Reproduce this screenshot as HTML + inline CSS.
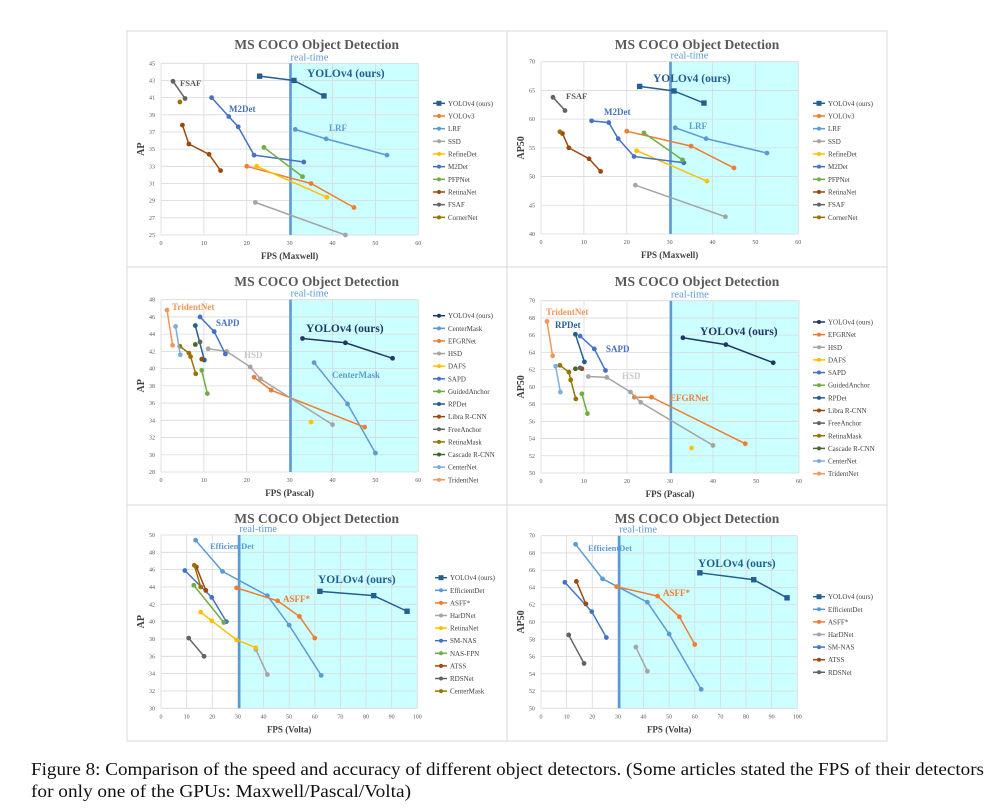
<!DOCTYPE html>
<html><head><meta charset="utf-8"><style>
html,body{margin:0;padding:0;background:#fff;}
svg{display:block;}
text{font-family:"Liberation Serif",serif;}
</style></head><body>
<svg id="fig" width="1001" height="810" viewBox="0 0 1001 810" xmlns="http://www.w3.org/2000/svg">
<g id="panels"></g>
<text x="31" y="775" font-size="18" fill="#111" textLength="953" lengthAdjust="spacingAndGlyphs">Figure 8: Comparison of the speed and accuracy of different object detectors. (Some articles stated the FPS of their detectors</text>
<text x="31" y="797" font-size="18" fill="#111" textLength="380" lengthAdjust="spacingAndGlyphs">for only one of the GPUs: Maxwell/Pascal/Volta)</text>
</svg>
<script>
// ---- colors per method
const C={YOLOv4:"#255e91",YOLOv4b:"#203864",YOLOv3:"#ed7d31",LRF:"#5b9bd5",SSD:"#a5a5a5",RefineDet:"#ffc000",M2Det:"#4472c4",PFPNet:"#70ad47",RetinaNet:"#9e480e",FSAF:"#636363",CornerNet:"#997300",CenterMask:"#5b9bd5",EFGRNet:"#ed7d31",HSD:"#a5a5a5",DAFS:"#ffc000",SAPD:"#4472c4",GuidedAnchor:"#70ad47",RPDet:"#255e91",Libra:"#9e480e",FreeAnchor:"#636363",RetinaMask:"#997300",Cascade:"#43682b",CenterNet:"#7cafdd",TridentNet:"#f1975a",EfficientDet:"#5b9bd5",ASFF:"#ed7d31",HarDNet:"#a5a5a5",RetinaNetV:"#ffc000",SMNAS:"#4472c4",NASFPN:"#70ad47",ATSS:"#9e480e",RDSNet:"#636363",CenterMaskV:"#997300"};

// ---- Panel 1 data (AP, Maxwell)
const p1Names=["YOLOv4 (ours)","YOLOv3","LRF","SSD","RefineDet","M2Det","PFPNet","RetinaNet","FSAF","CornerNet"];
const p1Colors=[C.YOLOv4,C.YOLOv3,C.LRF,C.SSD,C.RefineDet,C.M2Det,C.PFPNet,C.RetinaNet,C.FSAF,C.CornerNet];
const p1X=[[23,31,38],[20,35,45],[31.3,38.5,52.7],[22,43],[22.3,38.7],[11.8,15.8,18,21.7,33.3],[24,33],[5,6.5,11.2,13.9],[2.8,5.6],[4.4]];
const p1Y=[[43.5,43,41.2],[33,31,28.2],[37.3,36.2,34.3],[28.8,25],[33,29.4],[41,38.8,37.6,34.3,33.5],[35.2,31.8],[37.8,35.6,34.4,32.5],[42.9,40.9],[40.5]];
const p1YTicks=[25,27,29,31,33,35,37,39,41,43,45];
const p1XTicks=[0,10,20,30,40,50,60];

// ---- Panel 2 data (AP50, Maxwell)
const p2X=p1X;
const p2Y=[[65.7,64.9,62.8],[57.9,55.3,51.5],[58.5,56.6,54.1],[48.5,43],[54.5,49.2],[59.7,59.4,56.6,53.5,52.4],[57.6,52.9],[57.5,55,53.1,50.9],[63.8,61.5],[57.8]];
const p2YTicks=[40,45,50,55,60,65,70];

// ---- Panel 3 data (AP, Pascal)
const p3Names=["YOLOv4 (ours)","CenterMask","EFGRNet","HSD","DAFS","SAPD","GuidedAnchor","RPDet","Libra R-CNN","FreeAnchor","RetinaMask","Cascade R-CNN","CenterNet","TridentNet"];
const p3Colors=[C.YOLOv4b,C.CenterMask,C.EFGRNet,C.HSD,C.DAFS,C.SAPD,C.GuidedAnchor,C.RPDet,C.Libra,C.FreeAnchor,C.RetinaMask,C.Cascade,C.CenterNet,C.TridentNet];
const p3X=[[33,43,54],[35.7,43.5,50],[21.7,25.7,47.5],[11,15.3,20.8,23.2,40],[35],[9.1,12.4,15],[9.5,10.8],[8,10.1],[9.5],[9.1],[4.4,6.5,6.9,8.1],[8],[3.4,4.5],[1.4,2.7]];
const p3Y=[[43.5,43,41.2],[40.7,35.9,30.2],[39,37.5,33.2],[42.3,42,40.2,38.8,33.5],[33.8],[46,44.3,41.7],[39.8,37.1],[45,41],[41.1],[43.1],[42.6,41.8,41.4,39.4],[42.8],[44.9,41.6],[46.8,42.7]];
const p3YTicks=[28,30,32,34,36,38,40,42,44,46,48];

// ---- Panel 4 data (AP50, Pascal)
const p4Names=["YOLOv4 (ours)","EFGRNet","HSD","DAFS","SAPD","GuidedAnchor","RPDet","Libra R-CNN","FreeAnchor","RetinaMask","Cascade R-CNN","CenterNet","TridentNet"];
const p4Colors=[C.YOLOv4b,C.EFGRNet,C.HSD,C.DAFS,C.SAPD,C.GuidedAnchor,C.RPDet,C.Libra,C.FreeAnchor,C.RetinaMask,C.Cascade,C.CenterNet,C.TridentNet];
const p4X=[[33,43,54],[21.7,25.7,47.5],[11,15.3,20.8,23.2,40],[35],[9.1,12.4,15],[9.5,10.8],[8,10.1],[9.5],[9.1],[4.4,6.5,6.9,8.1],[8],[3.4,4.5],[1.4,2.7]];
const p4Y=[[65.7,64.9,62.8],[58.8,58.8,53.4],[61.2,61.1,59.4,58.2,53.2],[52.9],[65.9,64.4,61.9],[59.2,56.9],[66.1,62.9],[62.1],[62.2],[62.5,61.7,60.8,58.6],[62.1],[62.4,59.4],[67.6,63.6]];
const p4YTicks=[50,52,54,56,58,60,62,64,66,68,70];

// ---- Panel 5 data (AP, Volta)
const p5Names=["YOLOv4 (ours)","EfficientDet","ASFF*","HarDNet","RetinaNet","SM-NAS","NAS-FPN","ATSS","RDSNet","CenterMask"];
const p5Colors=[C.YOLOv4,C.EfficientDet,C.ASFF,C.HarDNet,C.RetinaNetV,C.SMNAS,C.NASFPN,C.ATSS,C.RDSNet,C.CenterMaskV];
const p5X=[[62,83,96],[13.5,24,41.5,50,62.5],[29.5,45.5,54,60],[37,41.5],[15.5,19.8,29.5,37],[9.3,19.8,25.5],[12.8,24.5],[13.8,17.5],[10.8,16.8],[13,15.5]];
const p5Y=[[43.5,43,41.2],[49.4,45.8,43,39.6,33.8],[43.9,42.4,40.6,38.1],[36.8,33.9],[41.1,40.1,37.9,37],[45.9,42.8,40],[44.2,39.9],[46.3,43.6],[38.1,36],[46.5,44]];
const p5YTicks=[30,32,34,36,38,40,42,44,46,48,50];
const p5XTicks=[0,10,20,30,40,50,60,70,80,90,100];

// ---- Panel 6 data (AP50, Volta)
const p6Names=["YOLOv4 (ours)","EfficientDet","ASFF*","HarDNet","SM-NAS","ATSS","RDSNet"];
const p6Colors=[C.YOLOv4,C.EfficientDet,C.ASFF,C.HarDNet,C.SMNAS,C.ATSS,C.RDSNet];
const p6X=[[62,83,96],[13.5,24,41.5,50,62.5],[29.5,45.5,54,60],[37,41.5],[9.3,19.8,25.5],[13.8,17.5],[10.8,16.8]];
const p6Y=[[65.7,64.9,62.8],[69,65,62.3,58.6,52.2],[64.1,63,60.6,57.4],[57.1,54.3],[64.6,61.2,58.2],[64.7,62.1],[58.5,55.2]];
const p6YTicks=[50,52,54,56,58,60,62,64,66,68,70];

const NS="http://www.w3.org/2000/svg";
const root=document.getElementById('panels');
function mk(tag,attrs,parent,txt){const e=document.createElementNS(NS,tag);for(const k in attrs)e.setAttribute(k,attrs[k]);if(txt!==undefined)e.textContent=txt;(parent||root).appendChild(e);return e;}

function panel(cfg){
  const g=mk('g',{});
  
  
  const box=mk('rect',{x:cfg.box[0],y:cfg.box[1],width:cfg.box[2],height:cfg.box[3],fill:'#fff',stroke:'#d9d9d9','stroke-width':1},g);
  
  
  const [x0,x1,y0,y1]=cfg.plot; // pixel bounds x0 left,x1 right,y0 top,y1 bottom
  const xmin=cfg.xTicks[0],xmax=cfg.xTicks[cfg.xTicks.length-1];
  const ymin=cfg.yTicks[0],ymax=cfg.yTicks[cfg.yTicks.length-1];
  const sx=v=>x0+(v-xmin)/(xmax-xmin)*(x1-x0);
  const sy=v=>y1-(v-ymin)/(ymax-ymin)*(y1-y0);
  // cyan region
  const cy=mk('rect',{x:sx(cfg.rt),y:y0,width:x1-sx(cfg.rt),height:y1-y0,fill:'#ccffff'},g);
  
  
  // grid
  cfg.yTicks.forEach(t=>{
    const l=mk('line',{x1:x0,x2:x1,y1:sy(t),y2:sy(t),stroke:'#d9d9d9','stroke-width':0.8},g);
    
    
    const tx=mk('text',{x:x0-6,y:sy(t)+2,'font-size':6,fill:'#595959','text-anchor':'end'},g,t);
    
    
  });
  cfg.xTicks.forEach(t=>{
    const l=mk('line',{x1:sx(t),x2:sx(t),y1:y0,y2:y1,stroke:'#d9d9d9','stroke-width':0.8},g);
    
    
    const tx=mk('text',{x:sx(t),y:y1+10,'font-size':6,fill:'#595959','text-anchor':'middle'},g,t);
    
    
  });
  const vl=mk('line',{x1:sx(cfg.rt),x2:sx(cfg.rt),y1:y0,y2:y1,stroke:'#5b9bd5','stroke-width':2.6},g);
  
  
  // title
  const ti=mk('text',{x:cfg.title[0],y:cfg.title[1],'font-size':13.5,'font-weight':'bold',fill:'#595959','text-anchor':'middle'},g,'MS COCO Object Detection');
  
  
  const rt=mk('text',{x:sx(cfg.rt)+19,y:y0-3,'font-size':10.5,fill:'#5b9bd5','text-anchor':'middle'},g,'real-time');
  
  
  const yt=mk('text',{x:0,y:0,'font-size':10,'font-weight':'bold',fill:'#404040','text-anchor':'middle',transform:`translate(${x0-17},${(y0+y1)/2}) rotate(-90)`},g,cfg.yLabel);
  
  
  const xt=mk('text',{x:(x0+x1)/2,y:y1+24,'font-size':9,'font-weight':'bold',fill:'#404040','text-anchor':'middle'},g,cfg.xLabel);
  
  
  // series
  cfg.xs.forEach((xs,i)=>{
    const col=cfg.colors[i];
    const sg=mk('g',{},g);
    
    
    if(xs.length>1){
      const pl=mk('polyline',{points:xs.map((x,j)=>sx(x)+','+sy(cfg.ys[i][j])).join(' '),fill:'none',stroke:col,'stroke-width':1.5},sg);
      
      
    }
    xs.forEach((x,j)=>{
      let m;
      if(i===0&&cfg.square) m=mk('rect',{x:sx(x)-2.7,y:sy(cfg.ys[i][j])-2.7,width:5.4,height:5.4,fill:col},sg);
      else m=mk('circle',{cx:sx(x),cy:sy(cfg.ys[i][j]),r:2.4,fill:col},sg);
      
      
    });
  });
  // annotations
  cfg.labels.forEach(a=>{
    const t=mk('text',{x:a[0],y:a[1],'font-size':a[3]||9,'font-weight':'bold',fill:a[2]},g,a[4]);
    
    
  });
  // legend
  cfg.names.forEach((n,i)=>{
    const y=cfg.leg[1]+i*cfg.leg[2];
    const lg=mk('g',{},g);
    
    
    mk('line',{x1:cfg.leg[0],x2:cfg.leg[0]+12,y1:y,y2:y,stroke:cfg.colors[i],'stroke-width':1.5},lg);
    if(i===0&&cfg.square) mk('rect',{x:cfg.leg[0]+3.5,y:y-2.5,width:5,height:5,fill:cfg.colors[i]},lg);
    else mk('circle',{cx:cfg.leg[0]+6,cy:y,r:2,fill:cfg.colors[i]},lg);
    mk('text',{x:cfg.leg[0]+15,y:y+2.5,'font-size':7,fill:'#404040'},lg,n);
  });
}

panel({name:'chart-ap-maxwell',box:[127,31,380,236],plot:[161,418.3,63.3,235],xTicks:p1XTicks,yTicks:p1YTicks,rt:30.2,
 title:[316.7,49],yLabel:'AP',xLabel:'FPS (Maxwell)',names:p1Names,colors:p1Colors,xs:p1X,ys:p1Y,square:true,
 labels:[[180,86,'#595959',8.5,'FSAF'],[229,112,'#4472c4',9,'M2Det'],[329,131,'#5b9bd5',9,'LRF'],[307,77,'#255e91',11.5,'YOLOv4 (ours)']],
 leg:[433,103.3,12.67]});
panel({name:'chart-ap50-maxwell',box:[507,31,380,236],plot:[541,798.3,61.7,234],xTicks:p1XTicks,yTicks:p2YTicks,rt:30.2,
 title:[697,49],yLabel:'AP50',xLabel:'FPS (Maxwell)',names:p1Names,colors:p1Colors,xs:p2X,ys:p2Y,square:true,
 labels:[[566,99,'#595959',8.5,'FSAF'],[604,115,'#4472c4',9,'M2Det'],[689,129,'#5b9bd5',9,'LRF'],[653,82,'#255e91',11.5,'YOLOv4 (ours)']],
 leg:[813,103.3,12.67]});
panel({name:'chart-ap-pascal',box:[127,267,380,238],plot:[161,418.3,299.7,472],xTicks:p1XTicks,yTicks:p3YTicks,rt:30.2,
 title:[316.7,286],yLabel:'AP',xLabel:'FPS (Pascal)',names:p3Names,colors:p3Colors,xs:p3X,ys:p3Y,square:false,
 labels:[[172,310,'#f1975a',9,'TridentNet'],[216,326,'#4472c4',9,'SAPD'],[244,358,'#c9c9c9',9,'HSD'],[306,332,'#203864',11.5,'YOLOv4 (ours)'],[332,378,'#5b9bd5',9,'CenterMask']],
 leg:[433,315.7,12.62]});
panel({name:'chart-ap50-pascal',box:[507,267,380,238],plot:[541,799,300.7,473],xTicks:p1XTicks,yTicks:p4YTicks,rt:30.2,
 title:[697,286],yLabel:'AP50',xLabel:'FPS (Pascal)',names:p4Names,colors:p4Colors,xs:p4X,ys:p4Y,square:false,
 labels:[[546,315,'#f1975a',9,'TridentNet'],[555,328,'#255e91',9,'RPDet'],[606,352,'#4472c4',9,'SAPD'],[622,379,'#c9c9c9',9,'HSD'],[670,401,'#ed7d31',9,'EFGRNet'],[700,335,'#203864',11.5,'YOLOv4 (ours)']],
 leg:[813,322,12.64]});
panel({name:'chart-ap-volta',box:[127,505,380,236],plot:[161,417.3,535,708.3],xTicks:p5XTicks,yTicks:p5YTicks,rt:30.5,
 title:[316.7,523],yLabel:'AP',xLabel:'FPS (Volta)',names:p5Names,colors:p5Colors,xs:p5X,ys:p5Y,square:true,
 labels:[[210,549,'#5b9bd5',8.5,'EfficientDet'],[318,583,'#255e91',11.5,'YOLOv4 (ours)'],[283,602,'#ed7d31',9,'ASFF*']],
 leg:[435,577.7,12.6]});
panel({name:'chart-ap50-volta',box:[507,505,380,236],plot:[541,797.3,535.7,708.3],xTicks:p5XTicks,yTicks:p6YTicks,rt:30.5,
 title:[697,523],yLabel:'AP50',xLabel:'FPS (Volta)',names:p6Names,colors:p6Colors,xs:p6X,ys:p6Y,square:true,
 labels:[[588,551,'#5b9bd5',8.5,'EfficientDet'],[698,567,'#255e91',11.5,'YOLOv4 (ours)'],[663,596,'#ed7d31',9,'ASFF*']],
 leg:[813,596.7,12.6]});
</script>
</body></html>
